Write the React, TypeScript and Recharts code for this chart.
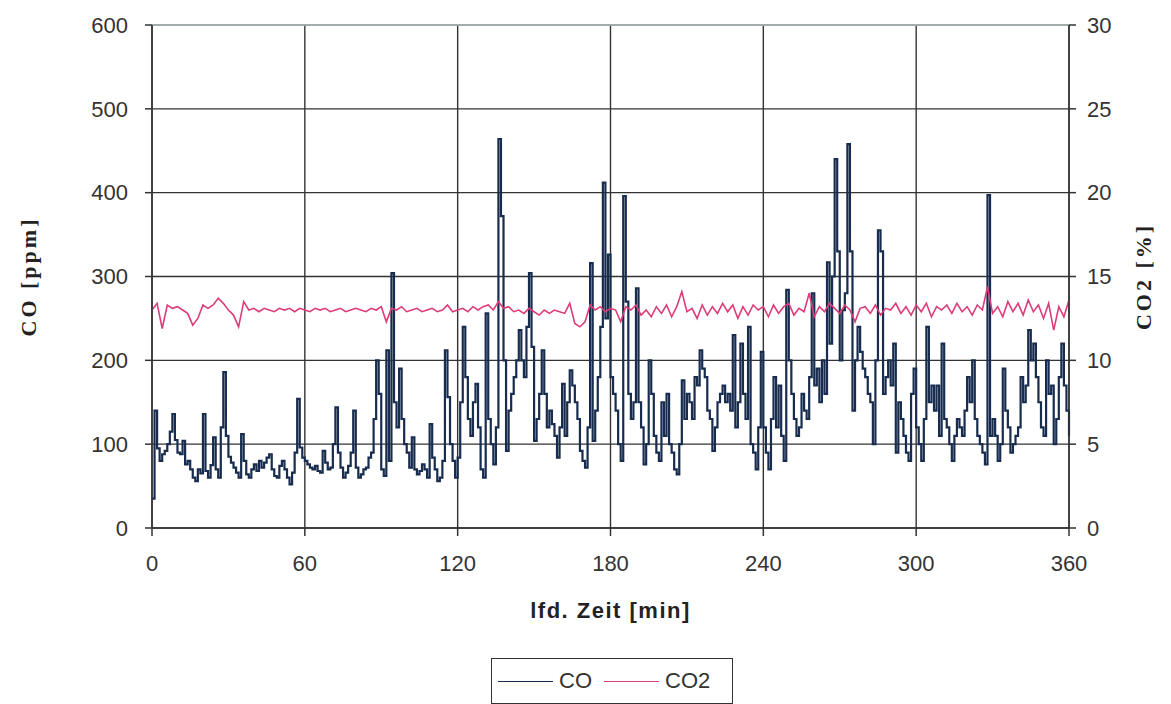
import React from 'react';
import {
  ComposedChart,
  Line,
  XAxis,
  YAxis,
  CartesianGrid,
  Legend,
  ReferenceLine,
} from 'recharts';

// CO [ppm], one value per minute, 0..360
const coPpm: number[] = [
  35, 140, 95, 80, 88, 92, 100, 115, 136, 105,
  90, 88, 104, 76, 80, 70, 60, 56, 70, 65,
  136, 68, 60, 75, 108, 70, 60, 120, 186, 110,
  85, 78, 72, 66, 60, 112, 80, 64, 60, 70,
  76, 68, 80, 72, 78, 84, 88, 70, 62, 60,
  74, 80, 70, 60, 52, 66, 90, 154, 96, 84,
  80, 76, 72, 70, 74, 68, 66, 92, 78, 70,
  72, 100, 144, 90, 72, 60, 66, 74, 90, 140,
  72, 60, 64, 70, 72, 84, 90, 130, 200, 160,
  70, 62, 212, 80, 304, 150, 120, 190, 130, 100,
  90, 72, 108, 70, 64, 68, 76, 70, 60, 124,
  84, 70, 56, 60, 80, 212, 156, 100, 80, 60,
  84, 150, 240, 180, 130, 110, 150, 172, 120, 70,
  60, 256, 130, 100, 76, 120, 464, 372, 200, 92,
  140, 160, 180, 200, 236, 200, 180, 240, 304, 216,
  104, 130, 160, 212, 160, 120, 140, 124, 110, 84,
  120, 172, 110, 150, 188, 170, 150, 130, 92, 80,
  72, 120, 316, 104, 140, 180, 240, 412, 250, 326,
  180, 160, 140, 100, 80, 396, 270, 160, 130, 150,
  286, 150, 120, 76, 100, 200, 160, 110, 90, 80,
  150, 110, 160, 100, 90, 70, 64, 100, 176, 130,
  160, 150, 130, 180, 170, 212, 190, 180, 140, 130,
  92, 120, 150, 160, 170, 150, 160, 140, 230, 120,
  150, 220, 160, 130, 240, 100, 90, 70, 120, 210,
  120, 90, 70, 130, 180, 120, 170, 110, 80, 284,
  200, 160, 130, 110, 120, 160, 140, 130, 180, 280,
  170, 190, 150, 200, 160, 317, 220, 300, 440, 330,
  200, 260, 280, 458, 330, 140, 200, 240, 210, 190,
  180, 160, 150, 100, 200, 355, 330, 160, 180, 200,
  170, 220, 90, 150, 130, 110, 90, 80, 160, 190,
  120, 100, 80, 130, 240, 150, 170, 140, 170, 110,
  220, 130, 120, 100, 80, 110, 130, 120, 110, 140,
  180, 150, 200, 130, 110, 100, 90, 76, 397, 110,
  130, 110, 80, 100, 190, 140, 120, 90, 100, 110,
  120, 180, 150, 170, 236, 200, 220, 180, 150, 120,
  110, 200, 160, 170, 100, 130, 180, 220, 170, 140,
  110,
];

// CO2 [%], one value every 2 minutes, 0..360
const co2Pct: number[] = [
  13.0, 13.4, 11.9, 13.3, 13.1, 13.2, 13.0, 12.8, 12.1, 12.5,
  13.3, 13.1, 13.3, 13.7, 13.4, 13.0, 12.7, 12.0, 13.5, 13.0,
  13.1, 12.9, 13.1, 13.0, 12.9, 13.1, 13.0, 13.1, 12.9, 13.1,
  13.0, 12.9, 13.1, 13.0, 13.1, 12.9, 13.0, 13.1, 12.9, 13.0,
  13.1, 13.0, 12.9, 13.1, 13.0, 13.2, 12.3, 13.1, 13.0, 13.2,
  12.9, 13.0, 13.1, 12.9, 13.0, 13.1, 12.9, 13.0, 13.3, 12.9,
  13.0, 13.1, 12.9, 13.2, 13.0, 13.2, 13.3, 13.0, 13.5, 13.1,
  13.2, 12.9, 13.0, 12.8, 13.1, 12.9, 12.7, 13.0, 12.8, 13.0,
  12.9, 12.8, 13.4, 12.2, 12.0, 12.3, 13.3, 13.0, 13.2, 12.9,
  13.1, 13.0, 12.3, 13.2, 13.0, 13.3, 12.7, 13.0, 12.6, 13.2,
  12.8, 13.3, 12.6, 13.2, 14.1, 12.9, 13.1, 12.5, 13.3, 12.7,
  13.2, 12.8, 13.4, 12.9, 13.3, 12.5, 13.2, 12.7, 13.3, 13.0,
  13.2, 12.6, 13.3, 12.8, 13.2, 13.4, 12.7, 13.1, 12.9, 14.0,
  12.6, 13.2, 12.9, 13.4, 13.1, 12.8, 13.3, 13.0, 12.3, 13.1,
  13.2, 12.8, 13.3, 12.7, 13.1, 13.0, 13.4, 12.8, 13.2, 12.7,
  13.3, 12.9, 13.4, 12.6, 13.2, 13.0, 13.3, 12.8, 13.4, 12.9,
  13.2, 12.7, 13.3, 13.0, 14.4, 12.8, 13.2, 12.6, 13.5, 12.9,
  13.4, 12.7, 13.6, 12.9, 13.3, 12.5, 13.4, 11.8, 13.2, 12.6,
  13.6,
];

const timeTicks = [0, 60, 120, 180, 240, 300, 360];
const coTicks = [0, 100, 200, 300, 400, 500, 600];
const co2Ticks = [0, 5, 10, 15, 20, 25, 30];

const data = coPpm.map((co, t) => ({
  t,
  co,
  co2: t % 2 === 0 ? co2Pct[t / 2] : null,
}));

const AXIS = '#333';
const tickStyle = { fontSize: 22, fill: '#333', fontFamily: '"Liberation Sans", Arial, sans-serif' };

const YLabel = ({ viewBox, text, dx }: any) => {
  const cx = viewBox.x + dx;
  const cy = viewBox.y + viewBox.height / 2;
  return (
    <text
      x={cx}
      y={cy}
      transform={`rotate(-90, ${cx}, ${cy})`}
      textAnchor="middle"
      dominantBaseline="central"
      fontFamily='"Liberation Serif", "Times New Roman", serif'
      fontWeight="bold"
      fontSize={22}
      letterSpacing={3}
      fill="#222"
    >
      {text}
    </text>
  );
};

const XLabel = ({ viewBox }: any) => (
  <text
    x={viewBox.x + viewBox.width / 2}
    y={viewBox.y + 90}
    textAnchor="middle"
    fontFamily='"Liberation Sans", Arial, sans-serif'
    fontWeight="bold"
    fontSize={22}
    letterSpacing={1.5}
    fill="#222"
  >
    lfd. Zeit [min]
  </text>
);

const LegendBox = () => (
  <div
    style={{
      boxSizing: 'border-box',
      width: 242,
      height: 46,
      border: '1px solid #333',
      display: 'flex',
      alignItems: 'center',
      paddingLeft: 6,
      fontFamily: '"Liberation Sans", Arial, sans-serif',
      fontSize: 22,
      color: '#333',
    }}
  >
    <span style={{ display: 'inline-block', width: 55, borderTop: '1.5px solid #172c4e' }} />
    <span style={{ marginLeft: 6, marginRight: 12 }}>CO</span>
    <span style={{ display: 'inline-block', width: 55, borderTop: '1.5px solid #dc3c78' }} />
    <span style={{ marginLeft: 6 }}>CO2</span>
  </div>
);

export default function App() {
  return (
    <div style={{ position: 'absolute', left: 0, top: 0, background: '#fff' }}>
      <ComposedChart width={1171} height={704} data={data} margin={{ top: 25, right: 0, bottom: 0, left: 0 }}>
        <CartesianGrid yAxisId="left" stroke={AXIS} strokeWidth={1.4} />
        <XAxis
          dataKey="t"
          type="number"
          domain={[0, 360]}
          ticks={timeTicks}
          height={130}
          tickSize={8}
          tickMargin={19}
          tick={tickStyle}
          stroke={AXIS}
          strokeWidth={1.5}
          label={<XLabel />}
        />
        <YAxis
          yAxisId="left"
          domain={[0, 600]}
          ticks={coTicks}
          width={152}
          tickSize={7}
          tickMargin={17}
          tick={tickStyle}
          stroke={AXIS}
          strokeWidth={1.5}
          label={<YLabel text="CO [ppm]" dx={28} />}
        />
        <YAxis
          yAxisId="right"
          orientation="right"
          domain={[0, 30]}
          ticks={co2Ticks}
          width={102}
          tickSize={7}
          tickMargin={11}
          tick={tickStyle}
          stroke={AXIS}
          strokeWidth={1.5}
          label={<YLabel text="CO2 [%]" dx={74} />}
        />
        <ReferenceLine yAxisId="left" y={600} stroke="#b8c4c4" strokeWidth={1.5} />
        <Legend
          verticalAlign="bottom"
          content={<LegendBox />}
          wrapperStyle={{ left: 491, width: 242, bottom: 0, height: 46 }}
        />
        <Line
          yAxisId="left"
          dataKey="co"
          type="stepAfter"
          stroke="#172c4e"
          strokeWidth={2.2}
          dot={false}
          isAnimationActive={false}
        />
        <Line
          yAxisId="right"
          dataKey="co2"
          type="linear"
          stroke="#dc3c78"
          strokeWidth={1.6}
          dot={false}
          connectNulls
          isAnimationActive={false}
        />
      </ComposedChart>
    </div>
  );
}
